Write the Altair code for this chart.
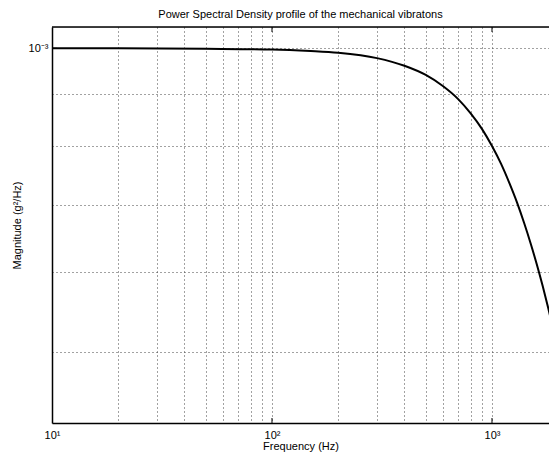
import altair as alt
import pandas as pd

# Data (frequency in Hz, PSD in g^2/Hz)
freq = [10, 20, 50, 100, 150, 200, 300, 400, 500, 600, 700, 800, 900, 1000,
        1100, 1200, 1300, 1400, 1500, 1600, 1700, 1800, 1900, 2000]
psd = [1.000e-3, 1.000e-3, 0.999e-3, 0.9975e-3, 0.994e-3, 0.990e-3, 0.978e-3,
       0.961e-3, 0.941e-3, 0.917e-3, 0.891e-3, 0.862e-3, 0.832e-3, 0.800e-3,
       0.768e-3, 0.735e-3, 0.703e-3, 0.671e-3, 0.640e-3, 0.610e-3, 0.581e-3,
       0.553e-3, 0.526e-3, 0.500e-3]

x_grid_values = [10, 20, 30, 40, 50, 60, 70, 80, 90, 100, 200, 300, 400, 500,
                 600, 700, 800, 900, 1000]
x_major = [100, 1000]
y_grid_values = [5e-4, 6e-4, 7e-4, 8e-4, 9e-4, 1e-3]
y_major = [1e-3]

# the reference figure is cut at the right edge, just before 2000 Hz
x_domain = [10, 1816]
y_domain = [4.25e-4, 1.05e-3]

W, H = 497, 396
FONT = "Liberation Sans"

df = pd.DataFrame({"f": freq, "p": psd})
xs = alt.Scale(type="log", domain=x_domain, nice=False)
ys = alt.Scale(type="log", domain=y_domain, nice=False)

x_axis = alt.Axis(
    values=x_grid_values,
    labelExpr="datum.value == 10 ? '10¹' : datum.value == 100 ? '10²' : datum.value == 1000 ? '10³' : ''",
    grid=True, gridDash=[1, 3], gridColor="#444", gridWidth=1,
    ticks=False, domainColor="black", domainWidth=1.5,
    labelFont=FONT, labelFontSize=11, labelColor="black", labelPadding=6,
    labelOverlap=False, labelFlush=False,
    title="Frequency (Hz)", titleFont=FONT, titleFontSize=11,
    titleFontWeight="normal", titleColor="black", titlePadding=0,
)
y_axis = alt.Axis(
    values=y_grid_values,
    labelExpr="datum.value > 0.00099 ? '10⁻³' : ''",
    grid=True, gridDash=[1, 3], gridColor="#444", gridWidth=1,
    ticks=False, domainColor="black", domainWidth=1.5,
    labelFont=FONT, labelFontSize=11, labelColor="black", labelPadding=4,
    labelOverlap=False,
    title="Magnitude (g²/Hz)", titleFont=FONT, titleFontSize=11,
    titleFontWeight="normal", titleColor="black", titlePadding=6,
)

line = alt.Chart(df).mark_line(color="black", strokeWidth=2, interpolate="monotone", clip=True).encode(
    x=alt.X("f:Q", scale=xs, axis=x_axis),
    y=alt.Y("p:Q", scale=ys, axis=y_axis),
)

top_border = alt.Chart(pd.DataFrame({"a": [0]})).mark_rule(color="black", strokeWidth=1.5).encode(
    x=alt.value(0), x2=alt.value(W), y=alt.value(0)
)

xt = pd.DataFrame({"f": x_major})
tick_bottom = alt.Chart(xt).mark_rule(color="black", strokeWidth=1).encode(
    x=alt.X("f:Q", scale=xs), y=alt.value(H), y2=alt.value(H - 5)
)
tick_top = alt.Chart(xt).mark_rule(color="black", strokeWidth=1).encode(
    x=alt.X("f:Q", scale=xs), y=alt.value(0), y2=alt.value(5)
)
yt = pd.DataFrame({"p": y_major})
tick_left = alt.Chart(yt).mark_rule(color="black", strokeWidth=1).encode(
    y=alt.Y("p:Q", scale=ys), x=alt.value(0), x2=alt.value(5)
)

chart = alt.layer(line, tick_bottom, tick_top, tick_left, top_border).properties(
    width=W, height=H,
    title=alt.TitleParams(
        "Power Spectral Density profile of the mechanical vibratons",
        font=FONT, fontSize=11, fontWeight="normal", color="black", offset=6,
    ),
    autosize=alt.AutoSizeParams(type="none"),
    padding={"left": 44, "top": 19, "right": 0, "bottom": 29},
).configure_view(stroke=None).configure(background="white")

chart.save("out.html", embed_options={"renderer": "svg", "actions": False})
